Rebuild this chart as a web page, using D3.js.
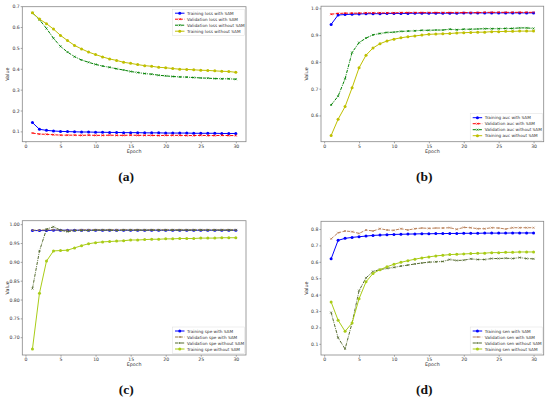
<!DOCTYPE html>
<html lang="en">
<head>
<meta charset="UTF-8">
<title>SAM training curves</title>
<script src="https://cdn.jsdelivr.net/npm/d3@7"></script>
<style>
  body {margin: 0; background: #fff;}
  svg text {font-family: "DejaVu Sans", sans-serif;}
</style>
</head>
<body>
<div id="chart"></div>
<script>
// epochs on the x axis
const epochs = [1,2,3,4,5,6,7,8,9,10,11,12,13,14,15,16,17,18,19,20,21,22,23,24,25,26,27,28,29,30];
const xTicks = [0,5,10,15,20,25,30];

// (a) loss
const lossTrainSam   = [0.142,0.110,0.105,0.102,0.100,0.099,0.098,0.097,0.097,0.096,0.096,0.095,0.095,0.094,0.094,0.094,0.093,0.093,0.093,0.092,0.092,0.092,0.092,0.091,0.091,0.091,0.091,0.090,0.090,0.090];
const lossValSam     = [0.092,0.087,0.086,0.084,0.082,0.082,0.082,0.081,0.082,0.081,0.081,0.082,0.081,0.081,0.082,0.081,0.081,0.081,0.080,0.081,0.081,0.081,0.080,0.080,0.081,0.080,0.080,0.081,0.080,0.080];
const lossValNoSam   = [0.668,0.635,0.593,0.546,0.507,0.480,0.458,0.442,0.431,0.421,0.413,0.407,0.400,0.394,0.387,0.382,0.377,0.374,0.369,0.366,0.363,0.361,0.360,0.358,0.356,0.355,0.353,0.352,0.352,0.350];
const lossTrainNoSam = [0.668,0.638,0.616,0.590,0.560,0.535,0.512,0.495,0.480,0.468,0.457,0.447,0.440,0.431,0.426,0.420,0.415,0.412,0.407,0.405,0.401,0.398,0.397,0.395,0.393,0.392,0.390,0.388,0.387,0.383];
const lossTicks = [0.1,0.2,0.3,0.4,0.5,0.6,0.7];

// (b) auc
const aucTrainSam   = [0.940,0.975,0.977,0.978,0.979,0.980,0.980,0.980,0.981,0.981,0.981,0.981,0.982,0.982,0.982,0.982,0.982,0.982,0.982,0.983,0.983,0.983,0.983,0.983,0.983,0.983,0.983,0.983,0.983,0.983];
const aucValSam     = [0.978,0.981,0.982,0.982,0.982,0.983,0.983,0.983,0.983,0.983,0.984,0.984,0.984,0.984,0.984,0.984,0.984,0.984,0.984,0.984,0.984,0.984,0.985,0.985,0.985,0.985,0.985,0.985,0.985,0.985];
const aucValNoSam   = [0.639,0.672,0.737,0.835,0.872,0.889,0.901,0.906,0.910,0.911,0.914,0.915,0.916,0.918,0.918,0.919,0.919,0.922,0.920,0.922,0.922,0.923,0.924,0.924,0.924,0.925,0.925,0.927,0.927,0.925];
const aucTrainNoSam = [0.525,0.586,0.633,0.703,0.778,0.825,0.852,0.868,0.878,0.885,0.890,0.894,0.897,0.900,0.903,0.904,0.905,0.906,0.908,0.909,0.910,0.911,0.911,0.913,0.913,0.914,0.914,0.915,0.915,0.915];
const aucTicks = [0.6,0.7,0.8,0.9,1.0];

// (c) specificity
const speTrainSam   = [0.983,0.983,0.983,0.984,0.984,0.984,0.984,0.984,0.984,0.984,0.984,0.984,0.984,0.984,0.984,0.984,0.984,0.984,0.984,0.984,0.984,0.984,0.984,0.984,0.984,0.984,0.984,0.984,0.984,0.984];
const speValSam     = [0.984,0.984,0.985,0.985,0.984,0.984,0.984,0.985,0.985,0.985,0.985,0.985,0.985,0.985,0.985,0.985,0.985,0.985,0.985,0.985,0.985,0.985,0.985,0.985,0.985,0.985,0.985,0.985,0.985,0.985];
const speValNoSam   = [0.829,0.929,0.987,0.993,0.984,0.980,0.983,0.983,0.983,0.984,0.984,0.984,0.983,0.984,0.984,0.984,0.984,0.984,0.984,0.984,0.984,0.984,0.984,0.984,0.984,0.984,0.984,0.984,0.984,0.984];
const speTrainNoSam = [0.669,0.817,0.902,0.929,0.930,0.931,0.937,0.943,0.948,0.951,0.953,0.954,0.955,0.956,0.958,0.958,0.959,0.960,0.960,0.961,0.961,0.962,0.962,0.962,0.963,0.963,0.963,0.964,0.964,0.964];
const speTicks = [0.70,0.75,0.80,0.85,0.90,0.95,1.00];

// (d) sensitivity
const senTrainSam   = [0.618,0.731,0.743,0.749,0.753,0.757,0.761,0.763,0.765,0.767,0.768,0.769,0.770,0.771,0.771,0.772,0.772,0.773,0.773,0.774,0.774,0.774,0.775,0.775,0.775,0.775,0.776,0.776,0.776,0.776];
const senValSam     = [0.740,0.777,0.788,0.784,0.773,0.794,0.788,0.802,0.794,0.792,0.802,0.794,0.802,0.806,0.804,0.806,0.806,0.808,0.798,0.810,0.808,0.802,0.802,0.808,0.806,0.800,0.808,0.808,0.808,0.808];
const senValNoSam   = [0.291,0.137,0.069,0.227,0.424,0.502,0.541,0.553,0.560,0.566,0.574,0.580,0.587,0.593,0.598,0.600,0.602,0.614,0.608,0.610,0.618,0.614,0.614,0.620,0.620,0.622,0.620,0.626,0.620,0.618];
const senTrainNoSam = [0.355,0.244,0.176,0.227,0.375,0.478,0.529,0.552,0.570,0.585,0.597,0.607,0.616,0.624,0.630,0.636,0.640,0.644,0.646,0.648,0.650,0.652,0.653,0.656,0.656,0.658,0.658,0.660,0.660,0.660];
const senTicks = [0.1,0.2,0.3,0.4,0.5,0.6,0.7,0.8];

const DASH = "3.2,1.4", DASHDOT = "3.2,1,0.8,1";

const panels = [
  {caption: "a", box: [22.3, 6.7, 246, 141.7], yTicks: lossTicks, fmt: ".1f", legend: "tr",
   series: [
     {name: "Training loss with SAM", values: lossTrainSam, color: "#0000ff", dash: null, marker: "o"},
     {name: "Validation loss with SAM", values: lossValSam, color: "#ff0000", dash: DASH, marker: "x"},
     {name: "Validation loss without SAM", values: lossValNoSam, color: "#008000", dash: DASHDOT, marker: "x"},
     {name: "Training loss without SAM", values: lossTrainNoSam, color: "#bfbf00", dash: null, marker: "o"}]},
  {caption: "b", box: [321, 6.2, 543.7, 141.7], yTicks: aucTicks, fmt: ".1f", legend: "br",
   series: [
     {name: "Training auc with SAM", values: aucTrainSam, color: "#0000ff", dash: null, marker: "o"},
     {name: "Validation auc with SAM", values: aucValSam, color: "#ff0000", dash: DASH, marker: "x"},
     {name: "Validation auc without SAM", values: aucValNoSam, color: "#008000", dash: DASHDOT, marker: "x"},
     {name: "Training auc without SAM", values: aucTrainNoSam, color: "#bfbf00", dash: null, marker: "o"}]},
  {caption: "c", box: [22.3, 220.7, 246, 355], yTicks: speTicks, fmt: ".2f", legend: "br",
   series: [
     {name: "Training spe with SAM", values: speTrainSam, color: "#0000ff", dash: null, marker: "o"},
     {name: "Validation spe with SAM", values: speValSam, color: "#9a7d45", dash: DASH, marker: "x"},
     {name: "Validation spe without SAM", values: speValNoSam, color: "#556b2f", dash: DASHDOT, marker: "x"},
     {name: "Training spe without SAM", values: speTrainNoSam, color: "#a9cc17", dash: null, marker: "o"}]},
  {caption: "d", box: [321, 221.3, 543.7, 355], yTicks: senTicks, fmt: ".1f", legend: "br",
   series: [
     {name: "Training sen with SAM", values: senTrainSam, color: "#0000ff", dash: null, marker: "o"},
     {name: "Validation sen with SAM", values: senValSam, color: "#b9815a", dash: DASH, marker: "x"},
     {name: "Validation sen without SAM", values: senValNoSam, color: "#556b2f", dash: DASHDOT, marker: "x"},
     {name: "Training sen without SAM", values: senTrainNoSam, color: "#a9cc17", dash: null, marker: "o"}]}
];

const svg = d3.select("#chart").append("svg")
  .attr("width", 550).attr("height", 401);

function drawMarker(g, shape, cx, cy, color) {
  if (shape === "o") {
    g.append("circle").attr("cx", cx).attr("cy", cy).attr("r", 1.5).attr("fill", color);
  } else {
    const s = 1.0;
    g.append("path")
      .attr("d", `M${cx-s},${cy-s}L${cx+s},${cy+s}M${cx-s},${cy+s}L${cx+s},${cy-s}`)
      .attr("stroke", color).attr("stroke-width", 0.7).attr("fill", "none");
  }
}

panels.forEach(function(p) {
  const [x0, y0, x1, y1] = p.box;
  const all = p.series.flatMap(s => s.values);
  const lo = d3.min(all), hi = d3.max(all), pad = (hi - lo) * 0.05;
  const xPad = (d3.max(epochs) - d3.min(epochs)) * 0.05;

  const x = d3.scaleLinear().domain([d3.min(epochs) - xPad, d3.max(epochs) + xPad]).range([x0, x1]);
  const y = d3.scaleLinear().domain([lo - pad, hi + pad]).range([y1, y0]);

  const g = svg.append("g");

  // axes
  const xAxis = g.append("g").attr("transform", `translate(0,${y1})`)
    .call(d3.axisBottom(x).tickValues(xTicks).tickSize(1.6).tickPadding(1));
  const yAxis = g.append("g").attr("transform", `translate(${x0},0)`)
    .call(d3.axisLeft(y).tickValues(p.yTicks).tickFormat(d3.format(p.fmt)).tickSize(1.6).tickPadding(1));
  [xAxis, yAxis].forEach(a => {
    a.select(".domain").remove();
    a.selectAll("line").attr("stroke", "#666").attr("stroke-width", 0.6);
    a.selectAll("text").attr("font-size", 4.6).attr("fill", "#333")
      .style("font-family", "DejaVu Sans, sans-serif");
  });

  // lines
  const clip = "clip-" + p.caption;
  g.append("clipPath").attr("id", clip).append("rect")
    .attr("x", x0).attr("y", y0).attr("width", x1 - x0).attr("height", y1 - y0);
  const plot = g.append("g").attr("clip-path", `url(#${clip})`);
  const line = d3.line().x((d, i) => x(epochs[i])).y(d => y(d));
  p.series.forEach(function(s) {
    plot.append("path").datum(s.values)
      .attr("d", line)
      .attr("fill", "none")
      .attr("stroke", s.color)
      .attr("stroke-width", 1)
      .attr("stroke-dasharray", s.dash);
    s.values.forEach((v, i) => drawMarker(plot, s.marker, x(epochs[i]), y(v), s.color));
  });

  // frame
  g.append("rect").attr("x", x0).attr("y", y0).attr("width", x1 - x0).attr("height", y1 - y0)
    .attr("fill", "none").attr("stroke", "#888").attr("stroke-width", 0.8);

  // axis labels
  g.append("text").attr("x", (x0 + x1) / 2).attr("y", y1 + 11)
    .attr("text-anchor", "middle").attr("font-size", 4.8).attr("fill", "#333").text("Epoch");
  g.append("text")
    .attr("transform", `translate(${x0 - 13},${(y0 + y1) / 2}) rotate(-90)`)
    .attr("text-anchor", "middle").attr("font-size", 4.8).attr("fill", "#333").text("Value");

  // legend
  const lw = 72, lh = 26.5;
  const lx = x1 - 1.5 - lw;
  const ly = p.legend === "tr" ? y0 + 2.5 : y1 - 1.5 - lh;
  const leg = g.append("g");
  leg.append("rect").attr("x", lx).attr("y", ly).attr("width", lw).attr("height", lh)
    .attr("fill", "#fff").attr("stroke", "#ddd").attr("stroke-width", 0.5);
  p.series.forEach(function(s, i) {
    const cy = ly + 4 + i * 6;
    leg.append("line").attr("x1", lx + 2.5).attr("x2", lx + 12).attr("y1", cy).attr("y2", cy)
      .attr("stroke", s.color).attr("stroke-width", 1).attr("stroke-dasharray", s.dash);
    drawMarker(leg, s.marker, lx + 7.25, cy, s.color);
    leg.append("text").attr("x", lx + 14.5).attr("y", cy + 1.5)
      .attr("font-size", 4.2).attr("fill", "#333").text(s.name);
  });

  // caption
  const cap = g.append("text").attr("x", (x0 + x1) / 2 - 8).attr("y", y1 + 39)
    .attr("text-anchor", "middle")
    .style("font-family", "'Liberation Serif', 'DejaVu Serif', serif")
    .attr("font-size", 13.5).attr("font-weight", "bold").attr("fill", "#111");
  cap.text("(" + p.caption + ")");
});
</script>
</body>
</html>
